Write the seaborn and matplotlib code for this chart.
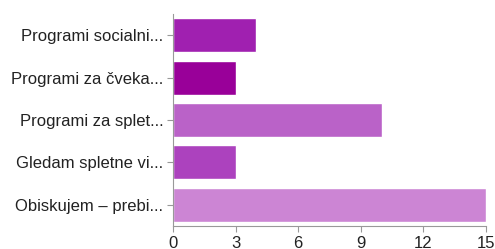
import matplotlib
matplotlib.use('Agg')
import matplotlib.pyplot as plt
import seaborn as sns
import pandas as pd

# data
labels = ['Programi socialni...', 'Programi za čveka...', 'Programi za splet...',
          'Gledam spletne vi...', 'Obiskujem – prebi...']
values = [4, 3, 10, 3, 15]
colors = ['#A020B0', '#990099', '#BA62C8', '#AC42BE', '#CC85D4']
ticks = [0, 3, 6, 9, 12, 15]

df = pd.DataFrame({'label': labels, 'value': values})

sns.set_style('white')
plt.rcParams['font.family'] = ['Liberation Sans', 'DejaVu Sans']

fig = plt.figure(figsize=(4.95, 2.49), dpi=100)
ax = fig.add_axes([0.3495, 0.0924, 0.6323, 0.8514])

sns.barplot(data=df, x='value', y='label', hue='label', palette=colors,
            legend=False, width=0.8, saturation=1, ax=ax)

ax.set_xlim(0, 15)
ax.set_xticks(ticks)
ax.set_xlabel('')
ax.set_ylabel('')
ax.tick_params(axis='both', labelsize=12, length=4, width=0.8,
               colors='#999999', labelcolor='#222222')
ax.tick_params(axis='y', pad=3)
for side in ['top', 'right']:
    ax.spines[side].set_visible(False)
for side in ['left', 'bottom']:
    ax.spines[side].set_color('#999999')
    ax.spines[side].set_linewidth(0.8)
ax.xaxis.set_ticks_position('bottom')
ax.yaxis.set_ticks_position('left')

fig.savefig('out.png', dpi=100)
